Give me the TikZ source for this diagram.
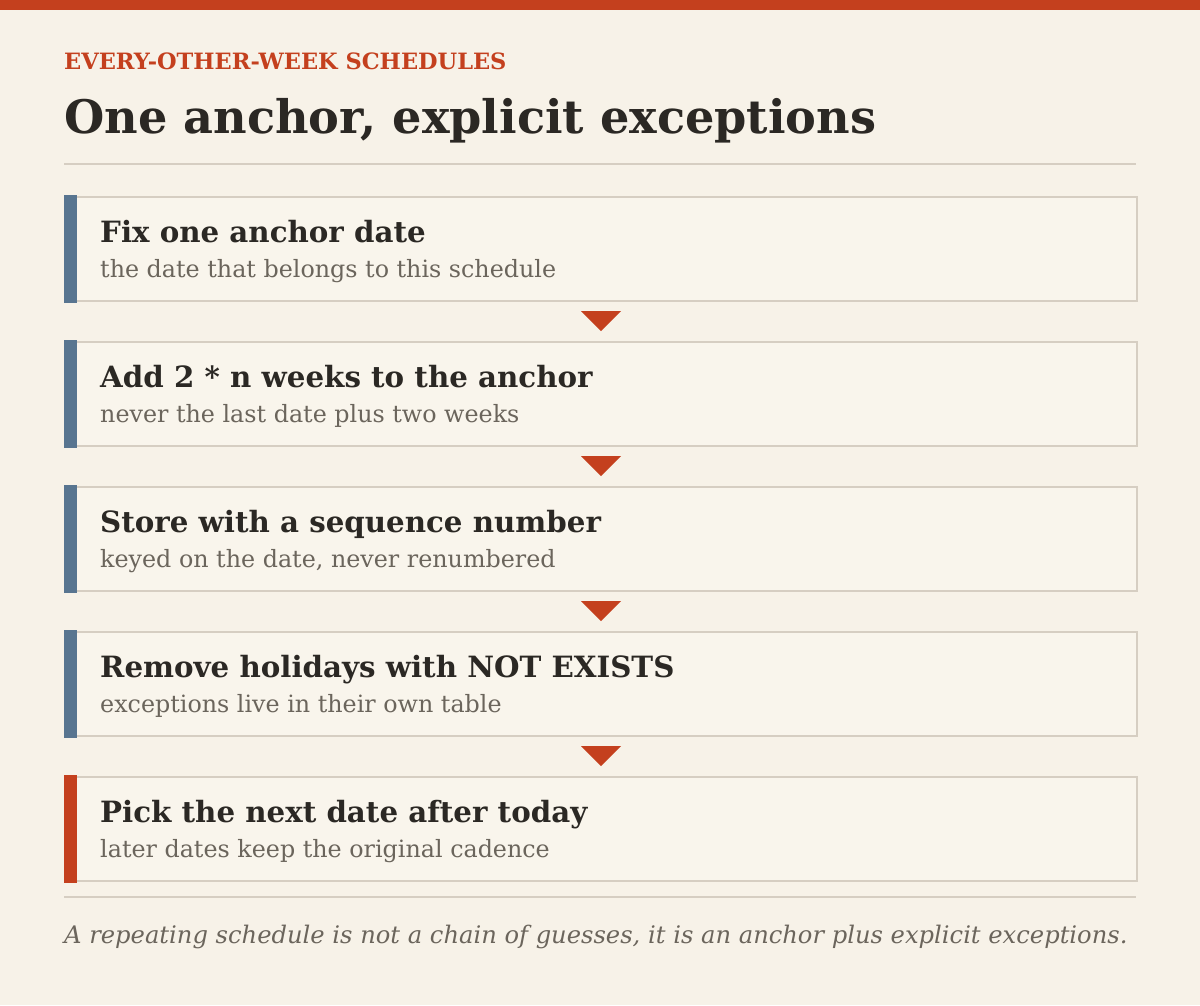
\documentclass[tikz,border=0pt]{standalone}
\usepackage{fontspec}
\setmainfont{DejaVu Serif}
\usetikzlibrary{calc}
\definecolor{bg}{HTML}{F7F2E8}
\definecolor{boxbg}{HTML}{F9F5EC}
\definecolor{accent}{HTML}{C4401E}
\definecolor{barblue}{HTML}{587590}
\definecolor{rulec}{HTML}{D6CEC2}
\definecolor{ink}{HTML}{2B2824}
\definecolor{subink}{HTML}{6B655C}
\tikzset{
  stepbox/.style={draw=rulec, line width=2pt, fill=boxbg, minimum width=1072pt, minimum height=104pt, anchor=north west, inner sep=0pt},
  steptitle/.style={anchor=base west, inner sep=0pt, text=ink, font=\bfseries\fontsize{29.3}{29.3}\selectfont},
  stepsub/.style={anchor=base west, inner sep=0pt, text=subink, font=\fontsize{23.8}{23.8}\selectfont},
  hrule/.style={draw=rulec, line width=2pt},
  arrowtri/.style={fill=accent},
}
\begin{document}
\begin{tikzpicture}[x=1pt,y=-1pt]
\useasboundingbox (0,0) rectangle (1200,1005);
\fill[bg] (0,0) rectangle (1200,1005);
\fill[accent] (0,0) rectangle (1200,10);
\node[anchor=base west, inner sep=0pt, text=accent, font=\bfseries\fontsize{22.5}{22.5}\selectfont] (kicker) at (64,69) {EVERY-OTHER-WEEK SCHEDULES};
\node[anchor=base west, inner sep=0pt, text=ink, font=\bfseries\fontsize{46.2}{46.2}\selectfont] (title) at (64,133) {One anchor, explicit exceptions};
\coordinate (r1a) at (64,164);
\coordinate (r1b) at (1136,164);
\draw[hrule] (r1a) -- (r1b);
\foreach \i/\y/\bar/\t/\s in {
  1/195.5/barblue/{Fix one anchor date}/{the date that belongs to this schedule},
  2/340.5/barblue/{Add 2 * n weeks to the anchor}/{never the last date plus two weeks},
  3/485.5/barblue/{Store with a sequence number}/{keyed on the date, never renumbered},
  4/630.5/barblue/{Remove holidays with NOT EXISTS}/{exceptions live in their own table},
  5/775.5/accent/{Pick the next date after today}/{later dates keep the original cadence}} {
  \node[stepbox] (b\i) at (64,\y) {};
  \fill[\bar] ($(b\i.north west)+(0,-1)$) rectangle ($(b\i.south west)+(13,1)$);
  \node[steptitle] (t\i) at ($(b\i.north west)+(36,46.5)$) {\t};
  \node[stepsub] (s\i) at ($(b\i.north west)+(36,81.5)$) {\s};
}
\foreach \i [evaluate=\i as \j using int(\i+1)] in {1,2,3,4} {
  \coordinate (m\i) at ($(b\i.south)!0.5!(b\j.north)$);
  \fill[arrowtri] ($(m\i)+(-20,-10)$) -- ($(m\i)+(20,-10)$) -- ($(m\i)+(0,10)$) -- cycle;
}
\coordinate (r2a) at (64,897);
\coordinate (r2b) at (1136,897);
\draw[hrule] (r2a) -- (r2b);
\node[anchor=base west, inner sep=0pt, text=subink, font=\itshape\fontsize{24.2}{24.2}\selectfont] (caption) at (64,943) {A repeating schedule is not a chain of guesses, it is an anchor plus explicit exceptions.};
\end{tikzpicture}
\end{document}
